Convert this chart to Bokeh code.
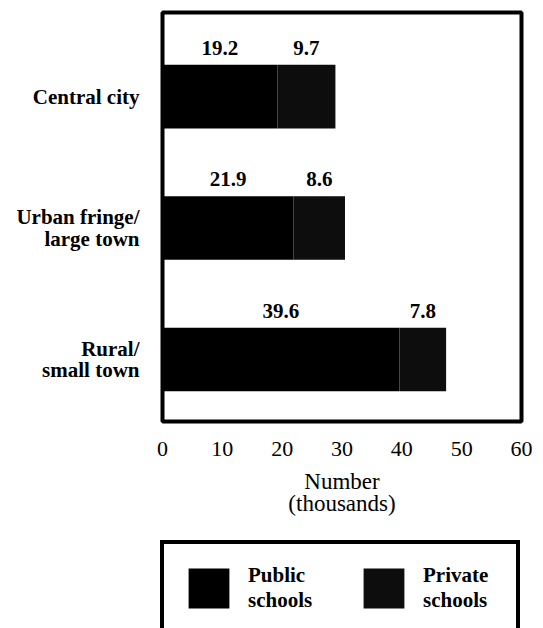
from bokeh.plotting import figure
from bokeh.layouts import column
from bokeh.models import ColumnDataSource, Range1d, FixedTicker, Legend, LegendItem
from bokeh.core.properties import value
from bokeh.embed import file_html
from bokeh.resources import INLINE

# ---- data ----
categories = ["Central city", "Urban fringe/\nlarge town", "Rural/\nsmall town"]
public = [19.2, 21.9, 39.6]
private = [9.7, 8.6, 7.8]
x_ticks = [0, 10, 20, 30, 40, 50, 60]
series_fields = ["public", "private"]
series_labels = ["Public\nschools", "Private\nschools"]
series_colors = ["#000000", "#0d0d0d"]

BAR_H = 0.484
FONT = "Liberation Serif"

idx = list(range(len(categories)))
source = ColumnDataSource(dict(
    idx=idx,
    public=public,
    private=private,
    pub_mid=[v / 2 for v in public],
    priv_mid=[a + b / 2 for a, b in zip(public, private)],
    pub_txt=[f"{v:.1f}" for v in public],
    priv_txt=[f"{v:.1f}" for v in private],
    top=[i - BAR_H / 2 for i in idx],
))

# ---------------- chart ----------------
p = figure(width=543, height=530,
           x_range=Range1d(0, 60), y_range=Range1d(2.472, -0.64),
           output_backend="svg", toolbar_location=None,
           min_border_left=162, min_border_right=22,
           min_border_top=12, min_border_bottom=109)

p.background_fill_color = "white"
p.border_fill_color = "white"
p.outline_line_color = "black"
p.outline_line_width = 4
p.outline_line_alpha = 1
p.grid.visible = False

p.hbar_stack(series_fields, y="idx", height=BAR_H,
             color=series_colors, line_color=None, source=source)

for xf, tf in (("pub_mid", "pub_txt"), ("priv_mid", "priv_txt")):
    p.text(x=xf, y="top", text=tf, source=source, text_align="center",
           text_baseline="alphabetic", y_offset=-17,
           text_font=value(FONT), text_font_style="bold",
           text_font_size="21px", text_color="black")

# y axis
p.yaxis.ticker = FixedTicker(ticks=idx)
p.yaxis.major_label_overrides = {i: c for i, c in zip(idx, categories)}
p.yaxis.axis_line_color = None
p.yaxis.major_tick_line_color = None
p.yaxis.minor_tick_line_color = None
p.yaxis.major_tick_out = 0
p.yaxis.major_tick_in = 0
p.yaxis.major_label_standoff = 23
p.yaxis.major_label_text_font = FONT
p.yaxis.major_label_text_font_style = "bold"
p.yaxis.major_label_text_font_size = "21px"
p.yaxis.major_label_text_color = "black"
p.yaxis.major_label_text_line_height = 0.9

# x axis
p.xaxis.ticker = FixedTicker(ticks=x_ticks)
p.xaxis.axis_line_color = None
p.xaxis.major_tick_line_color = None
p.xaxis.minor_tick_line_color = None
p.xaxis.major_tick_out = 0
p.xaxis.major_tick_in = 0
p.xaxis.major_label_standoff = 20
p.xaxis.major_label_text_font = FONT
p.xaxis.major_label_text_font_size = "22px"
p.xaxis.major_label_text_color = "black"
p.xaxis.axis_label = "Number\n(thousands)"
p.xaxis.axis_label_text_font = FONT
p.xaxis.axis_label_text_font_style = "normal"
p.xaxis.axis_label_text_font_size = "23px"
p.xaxis.axis_label_text_color = "black"
p.xaxis.axis_label_standoff = 10
p.xaxis.axis_label_text_line_height = 0.88

# ---------------- legend strip ----------------
lg = figure(width=543, height=98, x_range=Range1d(0, 60), y_range=Range1d(100, 101),
            output_backend="svg", toolbar_location=None, min_border=0,
            x_axis_location=None, y_axis_location=None)
lg.grid.visible = False
lg.outline_line_color = None
lg.background_fill_color = "white"
lg.border_fill_color = "white"

for fig in (p, lg):
    try:
        fig.frame_align = False
    except Exception:
        pass

# same series, kept out of this strip's view: they only feed the legend swatches
keys = lg.hbar_stack(series_fields, y="idx", height=BAR_H,
                     color=series_colors, line_color=None, source=source)

legend = Legend(
    items=[LegendItem(label=lab, renderers=[r]) for lab, r in zip(series_labels, keys)],
    orientation="horizontal", location=(160, -8),
    border_line_color="black", border_line_width=4, border_line_alpha=1,
    background_fill_color="white", background_fill_alpha=1,
    padding=19, spacing=36, margin=0,
    glyph_width=51, glyph_height=50, label_standoff=14, label_width=74,
    label_text_font=FONT, label_text_font_style="bold",
    label_text_font_size="21px", label_text_color="black",
    label_text_line_height=1.0,
)
lg.add_layout(legend, "center")

layout = column(p, lg, spacing=0)
open("out.html", "w").write(file_html(layout, INLINE))
